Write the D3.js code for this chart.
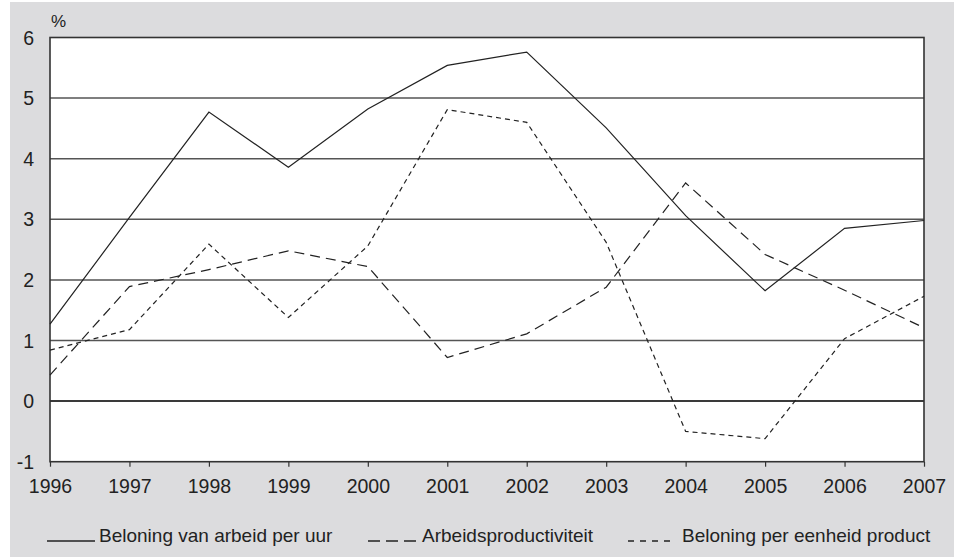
<!DOCTYPE html>
<html><head><meta charset="utf-8">
<script src="https://cdn.jsdelivr.net/npm/d3@7"></script>
<style>body{margin:0;background:#fff}svg text{font-family:"Liberation Sans",Arial,sans-serif;fill:#222}</style>
</head><body>
<svg id="c" width="954" height="558"></svg>
<script>
const years = [1996,1997,1998,1999,2000,2001,2002,2003,2004,2005,2006,2007];
const belUur = [1.27,3.03,4.77,3.86,4.82,5.54,5.76,4.51,3.06,1.82,2.85,2.98];
const arbProd = [0.43,1.89,2.17,2.48,2.22,0.72,1.11,1.88,3.6,2.42,1.83,1.21];
const belProd = [0.84,1.18,2.59,1.38,2.56,4.81,4.6,2.62,-0.5,-0.62,1.03,1.73];
const yTicks = [-1,0,1,2,3,4,5,6];
const seriesNames = ["Beloning van arbeid per uur","Arbeidsproductiviteit","Beloning per eenheid product"];

const svg = d3.select("#c");
svg.append("rect").attr("x",10).attr("y",2).attr("width",944).attr("height",555).attr("fill","#dcdcde");
const L=50,R=924,T=37.5,B=461.7;
const x = d3.scaleLinear().domain([1996,2007]).range([L,R]);
const y = d3.scaleLinear().domain([-1,6]).range([B,T]);
svg.append("rect").attr("x",L).attr("y",T).attr("width",R-L).attr("height",B-T).attr("fill","#fff");

// grid
svg.append("g").selectAll("line").data(yTicks.filter(d=>d>-1&&d<6)).join("line")
  .attr("x1",L).attr("x2",R).attr("y1",d=>y(d)).attr("y2",d=>y(d))
  .attr("stroke",d=>d===0?"#3a3a3a":"#555").attr("stroke-width",d=>d===0?2:1.5);

// y labels
svg.append("g").selectAll("text").data(yTicks).join("text")
  .attr("x",34).attr("y",d=>y(d)).attr("dy","0.36em").attr("text-anchor","end")
  .attr("font-size",19.5).text(d=>d);
svg.append("text").attr("x",51).attr("y",27).attr("font-size",17).text("%");

// x axis
const xAxis = d3.axisBottom(x).tickValues(years).tickFormat(d3.format("d")).tickSize(5).tickPadding(12);
const gx = svg.append("g").attr("transform",`translate(0,${B})`).call(xAxis);
gx.select(".domain").remove();
gx.selectAll(".tick line").attr("stroke","#333").attr("stroke-width",1.2);
gx.selectAll(".tick text").attr("font-size",19.5).attr("fill","#222").attr("font-family","Liberation Sans, Arial, sans-serif");

// border
svg.append("rect").attr("x",L).attr("y",T).attr("width",R-L).attr("height",B-T)
  .attr("fill","none").attr("stroke","#333").attr("stroke-width",1.6);

const line = d3.line().x((d,i)=>x(years[i])).y(d=>y(d));
const dashes = [null,"10,6","5,4"];
[belUur,arbProd,belProd].forEach((s,k)=>{
  svg.append("path").datum(s).attr("d",line).attr("fill","none")
    .attr("stroke","#222").attr("stroke-width",1.2)
    .attr("stroke-dasharray",dashes[k]);
});

// legend
const leg = [{x1:47,x2:95,tx:99},{x1:368,x2:417,tx:422},{x1:628,x2:670,tx:682}];
const legDash = [null,"12,6","6,6"];
leg.forEach((l,k)=>{
  svg.append("line").attr("x1",l.x1).attr("x2",l.x2).attr("y1",541).attr("y2",541)
    .attr("stroke","#222").attr("stroke-width",1.3).attr("stroke-dasharray",legDash[k]);
  svg.append("text").attr("x",l.tx).attr("y",542).attr("font-size",19).text(seriesNames[k]);
});
</script>
</body></html>
